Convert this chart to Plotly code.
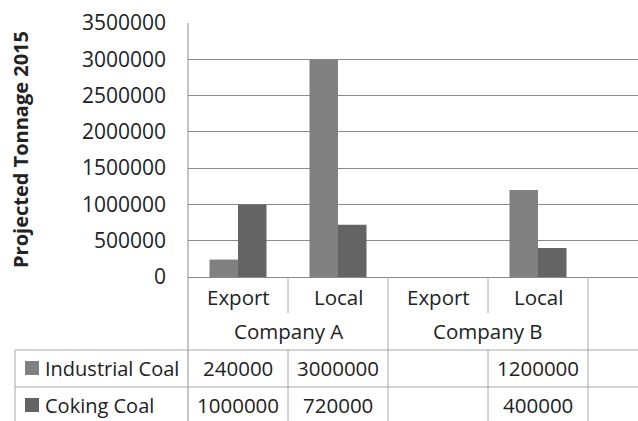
import plotly.graph_objects as go

# Chart data
categories = [0, 1, 2, 3]
category_labels = ["Export", "Local", "Export", "Local"]
company_labels = ["Company A", "Company B"]
industrial_coal = [240000, 3000000, None, 1200000]
coking_coal = [1000000, 720000, None, 400000]
series_names = ["Industrial Coal", "Coking Coal"]
y_ticks = [0, 500000, 1000000, 1500000, 2000000, 2500000, 3000000, 3500000]

# Canvas / plot-area geometry (pixels)
W, H = 638, 421
L, R, T, B = 188, 0, 23, 144
PW, PH = W - L - R, H - T - B

def px(xp):
    return (xp - L) / PW

def py(yp):
    return (H - B - yp) / PH

FONT = "Open Sans"
TXT = "#222222"
GRID = "#8a8a8a"
TLINE = "#a8a8a8"
COLORS = ["#808080", "#646464"]

fig = go.Figure()
for name, vals, col in zip(series_names, [industrial_coal, coking_coal], COLORS):
    fig.add_trace(go.Bar(x=categories, y=vals, name=name, marker=dict(color=col, line=dict(width=0))))

shapes = []
annotations = []

# axis line running down through the data table
shapes.append(dict(type="line", xref="paper", yref="paper", x0=0, x1=0, y0=1, y1=py(H),
                   line=dict(color=GRID, width=1)))
# table row separators
for yy in [350, 387]:
    shapes.append(dict(type="line", xref="paper", yref="paper", x0=px(15), x1=1, y0=py(yy), y1=py(yy),
                       line=dict(color=TLINE, width=1)))
# legend column left border
shapes.append(dict(type="line", xref="paper", yref="paper", x0=px(15), x1=px(15), y0=py(350), y1=py(H),
                   line=dict(color=TLINE, width=1)))
# column dividers: between categories of the same company (short), between companies (full)
for i in range(len(categories)):
    xb = categories[i] + 0.5
    if i % 2 == 0:
        for (a, b) in [(277, 313), (350, H)]:
            shapes.append(dict(type="line", xref="x", yref="paper", x0=xb, x1=xb, y0=py(a), y1=py(b),
                               line=dict(color=TLINE, width=1)))
    else:
        shapes.append(dict(type="line", xref="x", yref="paper", x0=xb, x1=xb, y0=py(277), y1=py(H),
                           line=dict(color=TLINE, width=1)))

# category labels
for c, lab in zip(categories, category_labels):
    annotations.append(dict(x=c, y=py(297), xref="x", yref="paper", text=lab, showarrow=False,
                            font=dict(family=FONT, size=20.5, color=TXT), xanchor="center", yanchor="middle"))
for k, lab in enumerate(company_labels):
    annotations.append(dict(x=categories[2 * k] + 0.5, y=py(331), xref="x", yref="paper", text=lab,
                            showarrow=False, font=dict(family=FONT, size=20.5, color=TXT),
                            xanchor="center", yanchor="middle"))

# data table rows
for name, vals, col, yy in zip(series_names, [industrial_coal, coking_coal], COLORS, [368, 405]):
    shapes.append(dict(type="rect", xref="paper", yref="paper", x0=px(25), x1=px(39),
                       y0=py(yy - 7), y1=py(yy + 7), fillcolor=col, line=dict(width=0)))
    annotations.append(dict(x=px(43), y=py(yy), xref="paper", yref="paper", text=name, showarrow=False,
                            font=dict(family=FONT, size=20, color=TXT), xanchor="left", yanchor="middle"))
    for c, v in zip(categories, vals):
        if v is None:
            continue
        annotations.append(dict(x=c, y=py(yy), xref="x", yref="paper", text=str(v), showarrow=False,
                                font=dict(family=FONT, size=20.5, color=TXT), xanchor="center",
                                yanchor="middle"))

# y axis title
annotations.append(dict(x=px(20), y=py(150), xref="paper", yref="paper", text="<b>Projected Tonnage 2015</b>",
                        textangle=-90, showarrow=False, font=dict(family=FONT, size=20, color=TXT),
                        xanchor="center", yanchor="middle"))

fig.update_layout(
    width=W, height=H,
    margin=dict(l=L, r=R, t=T, b=B, pad=0),
    paper_bgcolor="white", plot_bgcolor="white",
    barmode="group", bargap=0.43, bargroupgap=0,
    showlegend=False,
    shapes=shapes, annotations=annotations,
    xaxis=dict(range=[-0.5, 4.0], showticklabels=False, showgrid=False, zeroline=False, showline=False,
               fixedrange=True),
    yaxis=dict(range=[0, 3500000], tickvals=y_ticks, ticktext=[str(v) for v in y_ticks],
               showgrid=True, gridcolor=GRID, gridwidth=1, zeroline=True, zerolinecolor=GRID,
               zerolinewidth=1, showline=False, ticks="", ticklabelstandoff=21,
               tickfont=dict(family=FONT, size=21, color=TXT), fixedrange=True),
)

fig.write_html("out.html", config=dict(displayModeBar=False))
